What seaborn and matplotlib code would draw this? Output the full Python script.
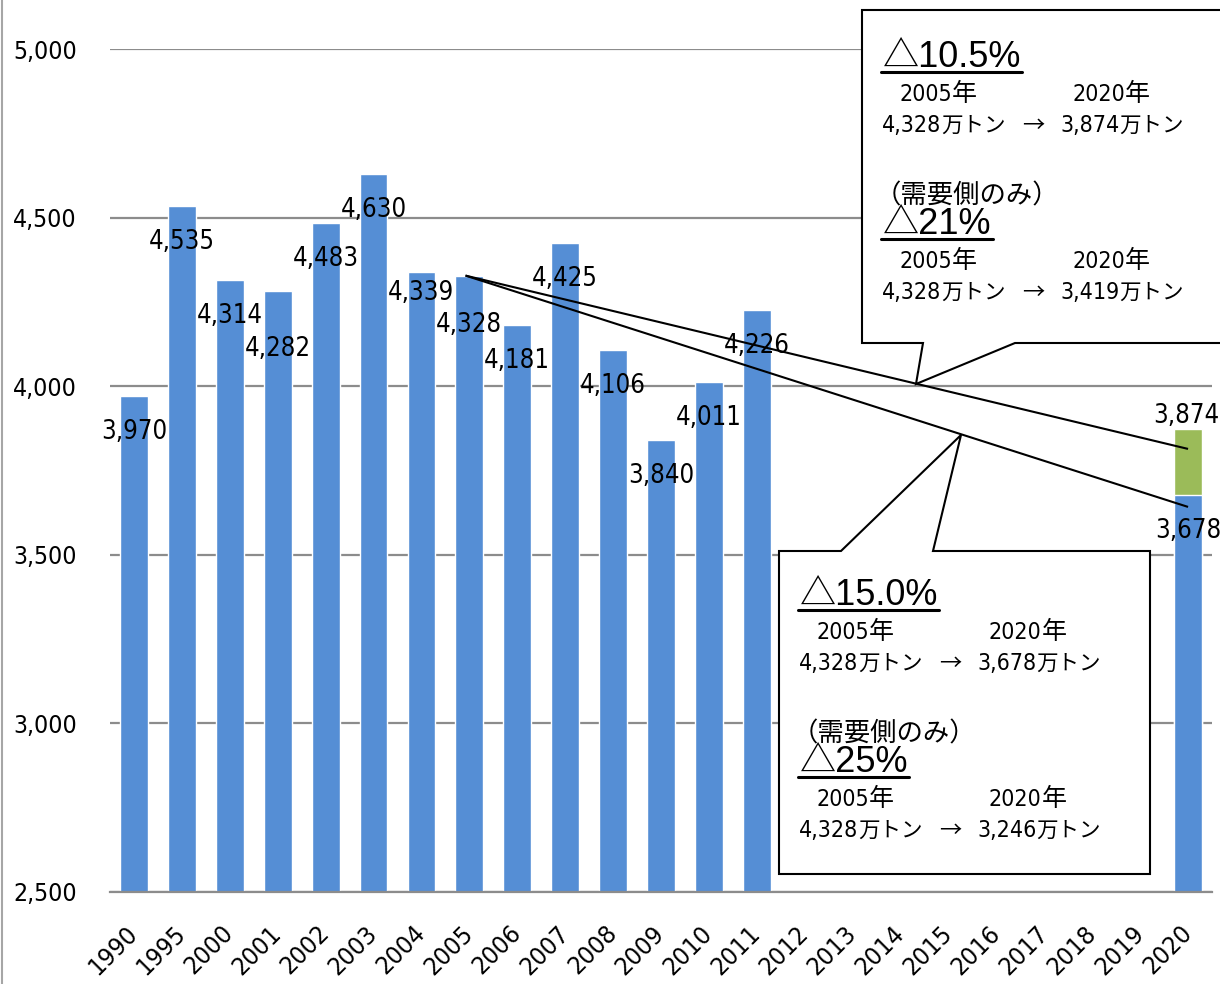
import numpy as np
import pandas as pd
import matplotlib
matplotlib.use("Agg")
import matplotlib.pyplot as plt
from matplotlib import font_manager as fm
from matplotlib.font_manager import FontProperties
from matplotlib.lines import Line2D
from matplotlib.patches import Polygon
import seaborn as sns

# ---- data -------------------------------------------------------------
years = ["1990", "1995", "2000", "2001", "2002", "2003", "2004", "2005",
         "2006", "2007", "2008", "2009", "2010", "2011", "2012", "2013",
         "2014", "2015", "2016", "2017", "2018", "2019", "2020"]
emissions = [3970, 4535, 4314, 4282, 4483, 4630, 4339, 4328,
             4181, 4425, 4106, 3840, 4011, 4226, np.nan, np.nan,
             np.nan, np.nan, np.nan, np.nan, np.nan, np.nan, 3678]
target_total = [np.nan] * 22 + [3874]

# reduction paths drawn from the 2005 level towards 2020
path_start = ("2005", 4328)
path_ends = [("2020", 3814), ("2020", 3642)]

# callout contents
base_year = "2005年"
goal_year = "2020年"
unit = "万トン"
demand_only = "（需要側のみ）"
callout_upper = [("△10.5%", "4,328", "3,874"), ("△21%", "4,328", "3,419")]
callout_lower = [("△15.0%", "4,328", "3,678"), ("△25%", "4,328", "3,246")]

yticks = [2500, 3000, 3500, 4000, 4500, 5000]

BLUE = "#558ED5"
GREEN = "#9BBB59"
GRID = "#8C8C8C"

# vertical placement of value labels below the bar top (pixels);
# a few labels are nudged so neighbours do not collide
LABEL_DROP = 36
label_drop_override = {"2001": 58, "2004": 21, "2005": 49}

# ---- fonts ------------------------------------------------------------
sns.set_style("white")
cjk = "Noto Sans CJK JP"


def pick_narrow():
    """Prefer a condensed sans face for figures; fall back to Liberation Sans."""
    for f in fm.fontManager.ttflist:
        if (f.stretch in ("condensed", "semi-condensed")
                and f.style == "normal" and f.weight in (400, "normal", "regular")
                and ("Sans" in f.name or "Narrow" in f.name)):
            return f.fname
    return None


narrow_path = pick_narrow()


def num_font(size):
    if narrow_path:
        return FontProperties(fname=narrow_path, size=size)
    return FontProperties(family="Liberation Sans", size=size)


plt.rcParams["font.family"] = ["Liberation Sans", cjk, "DejaVu Sans"]
plt.rcParams["axes.unicode_minus"] = False
plt.rcParams["text.color"] = "black"
plt.rcParams["xtick.color"] = "black"
plt.rcParams["ytick.color"] = "black"

W, H = 1220, 984
fig = plt.figure(figsize=(W / 100, H / 100), dpi=100)
renderer = fig.canvas.get_renderer()


def fit(sample, target_px, max_size):
    """Font size (pt) at which `sample` is about target_px wide."""
    t = fig.text(0, 0, sample, fontproperties=num_font(10))
    w = t.get_window_extent(renderer).width
    t.remove()
    return min(max_size, 10 * target_px / w)


label_size = fit("4,535", 66, 22)
tick_size = fit("5,000", 64, 22)
xtick_size = fit("1990", 58, 22)
amount_size = fit("4,328", 59, 22)

ax = fig.add_axes([110 / W, 1 - 892 / H, (1212 - 110) / W, (892 - 49) / H])

df = pd.DataFrame({"year": years, "emissions": emissions, "total": target_total})

# stacked 2020: green total behind, blue part in front
sns.barplot(data=df, x="year", y="total", order=years, color=GREEN,
            saturation=1, width=0.58, ax=ax, errorbar=None, zorder=2)
sns.barplot(data=df, x="year", y="emissions", order=years, color=BLUE,
            saturation=1, width=0.58, ax=ax, errorbar=None, zorder=3)

ax.set_ylim(yticks[0], yticks[-1])
ax.set_xlim(-0.5, len(years) - 0.5)
ax.set_yticks(yticks)
ax.set_yticklabels([f"{v:,}" for v in yticks], fontproperties=num_font(tick_size))
ax.set_xticks(range(len(years)))
ax.set_xticklabels(years, fontproperties=num_font(xtick_size), rotation=45,
                   ha="right", rotation_mode="anchor", va="center")
ax.tick_params(axis="y", length=0, pad=24)
ax.tick_params(axis="x", length=0, pad=27)
ax.set_xlabel("")
ax.set_ylabel("")
ax.grid(axis="y", color=GRID, lw=1.6, zorder=0)
ax.set_axisbelow(True)
for s in ["left", "right", "top"]:
    ax.spines[s].set_visible(False)
ax.spines["bottom"].set_color(GRID)
ax.spines["bottom"].set_linewidth(1.6)
ax.spines["bottom"].set_zorder(4)

# value labels
for i, v in enumerate(emissions):
    if not np.isnan(v):
        drop = label_drop_override.get(years[i], LABEL_DROP)
        ax.annotate(f"{int(v):,}", (i, v), xytext=(0, -drop),
                    textcoords="offset pixels", ha="center", va="center",
                    fontproperties=num_font(label_size), zorder=6)
for i, v in enumerate(target_total):
    if not np.isnan(v):
        ax.annotate(f"{int(v):,}", (i, v), xytext=(-2, 0),
                    textcoords="offset pixels", ha="center", va="bottom",
                    fontproperties=num_font(label_size), zorder=6)

# reduction paths
x0 = years.index(path_start[0])
for yr, val in path_ends:
    ax.plot([x0 - 0.08, years.index(yr)], [path_start[1], val], color="black",
            lw=1.5, zorder=5, solid_capstyle="butt")

# chart border on the left
fig.add_artist(Line2D([2 / W, 2 / W], [0, 1], color="#A6A6A6", lw=1.5))


def fpt(x, y):
    return (x / W, 1 - y / H)


def callout(points):
    poly = Polygon([fpt(x, y) for x, y in points], closed=True,
                   transform=fig.transFigure, facecolor="white",
                   edgecolor="black", lw=1.5, zorder=10)
    fig.add_artist(poly)


callout([(862, 10), (1230, 10), (1230, 343), (1015, 343), (916, 384),
         (923, 343), (862, 343)])
callout([(779, 551), (841, 551), (961, 435), (933, 551), (1150, 551),
         (1150, 874), (779, 874)])


def put(x, y, s, fp):
    t = fig.text(x / W, 1 - y / H, s, fontproperties=fp,
                 ha="left", va="baseline", zorder=12)
    return t, t.get_window_extent(renderer)


def cjk_font(size):
    return FontProperties(family=[cjk], size=size)


def run(x, y, parts):
    for s, fp in parts:
        _, bb = put(x, y, s, fp)
        x += bb.width
    return x


def block(x, y, title, before, after, paren):
    if paren:
        put(x - 8, y - 31, demand_only, cjk_font(19))
    t, bb = put(x, y, title, FontProperties(family=["Liberation Sans", cjk], size=26))
    yy = 1 - (y + 5) / H
    fig.add_artist(Line2D([(bb.x0 - 2) / W, (bb.x1 + 1) / W], [yy, yy],
                          color="black", lw=2.2, zorder=12))
    run(x + 16, y + 34, [(base_year[:-1], num_font(amount_size)), (base_year[-1], cjk_font(18))])
    run(x + 189, y + 34, [(goal_year[:-1], num_font(amount_size)), (goal_year[-1], cjk_font(18))])
    run(x - 1, y + 65, [(before, num_font(amount_size)), (unit, cjk_font(15.5))])
    fig.text((x + 150) / W, 1 - (y + 65) / H, "→", fontproperties=cjk_font(16),
             ha="center", va="baseline", zorder=12)
    run(x + 177, y + 65, [(after, num_font(amount_size)), (unit, cjk_font(15.5))])


for (bx, by), items in [((883, 67), callout_upper), ((800, 605), callout_lower)]:
    title, before, after = items[0]
    block(bx, by, title, before, after, False)
    title, before, after = items[1]
    block(bx, by + 167, title, before, after, True)

fig.savefig("out.png", dpi=100)
